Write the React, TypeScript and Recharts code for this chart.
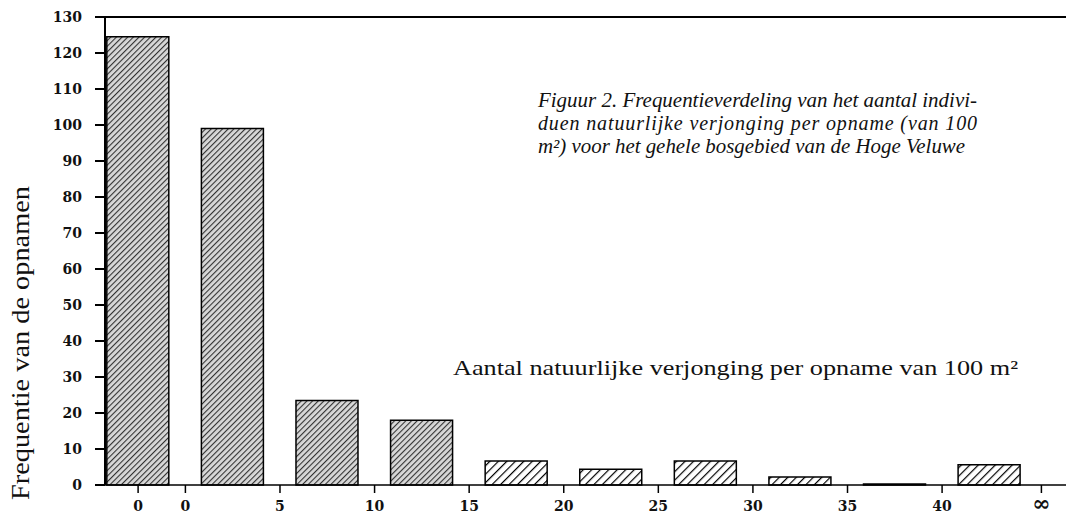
import { BarChart, Bar, XAxis, YAxis, Cell, ReferenceLine } from "recharts"

// classes of natural regeneration per 100 m2 plot
const classes = ["0", "1-4", "5-9", "10-14", "15-19", "20-24", "25-29", "30-34", "35-39", "40+"]
const classIndex = [0.5, 1.5, 2.5, 3.5, 4.5, 5.5, 6.5, 7.5, 8.5, 9.5]
const frequency = [124.5, 99, 23.5, 18, 6.7, 4.4, 6.7, 2.2, 0.3, 5.6]

const xTicks = [0.5, 1, 2, 3, 4, 5, 6, 7, 8, 9, 10.05]
const xTickLabels = ["0", "0", "5", "10", "15", "20", "25", "30", "35", "40", "∞"]
const yTicks = [0, 10, 20, 30, 40, 50, 60, 70, 80, 90, 100, 110, 120, 130]

const data = classes.map((c, i) => ({ name: c, x: classIndex[i], freq: frequency[i] }))

const serif = "'Liberation Serif', 'Times New Roman', Times, serif"
const tickFont = { fontFamily: "'DejaVu Serif'", fontWeight: 700, fontSize: 14, fill: "#111" }

function XTick(props: any) {
  const { x, payload } = props
  const label = xTickLabels[xTicks.indexOf(payload.value)]
  const inf = label === "∞"
  // axis line sits at y=485; baseline near the bottom edge like the scan
  return (
    <text x={x} y={511} textAnchor="middle" style={{ ...tickFont, fontSize: inf ? 22 : 14 }}>
      {label}
    </text>
  )
}

export default function App() {
  return (
    <div style={{ position: "absolute", left: 0, top: 0, width: 1066, height: 516, background: "#fff" }}>
      <BarChart width={1066} height={516} data={data} margin={{ top: 17, right: 0, bottom: 0, left: 0 }}>
        <defs>
          <pattern id="hatchDense" width="4" height="4" patternUnits="userSpaceOnUse" patternTransform="rotate(45)">
            <rect width="4" height="4" fill="#d8d8d8" />
            <line x1="0" y1="0" x2="0" y2="4" stroke="#333" strokeWidth="2.2" />
          </pattern>
          <pattern id="hatchSparse" width="6" height="6" patternUnits="userSpaceOnUse" patternTransform="rotate(45)">
            <rect width="6" height="6" fill="#fff" />
            <line x1="0" y1="0" x2="0" y2="6" stroke="#000" strokeWidth="2.4" />
          </pattern>
        </defs>
        <XAxis
          dataKey="x"
          type="number"
          domain={[0.15, 10.31]}
          allowDataOverflow
          ticks={xTicks}
          interval={0}
          height={31}
          tickSize={8}
          tickMargin={9}
          stroke="#000"
          strokeWidth={1.5}
          tick={<XTick />}
        />
        <YAxis
          domain={[0, 130]}
          ticks={yTicks}
          interval={0}
          width={105}
          tickSize={10}
          tickMargin={13}
          stroke="#000"
          strokeWidth={2}
          tick={tickFont}
        />
        <ReferenceLine y={130} stroke="#000" strokeWidth={2} />
        <Bar dataKey="freq" barSize={62} stroke="#000" strokeWidth={1.5} isAnimationActive={false}>
          {data.map((d, i) => (
            <Cell key={d.name} fill={i < 4 ? "url(#hatchDense)" : "url(#hatchSparse)"} />
          ))}
        </Bar>
      </BarChart>

      {/* texts from the original figure */}
      <svg width={1066} height={516} style={{ position: "absolute", left: 0, top: 0, pointerEvents: "none" }}>
        <text
          x={29}
          y={343}
          transform="rotate(-90 29 343)"
          textAnchor="middle"
          style={{ fontFamily: serif, fontSize: 26 }}
          textLength={314}
          lengthAdjust="spacingAndGlyphs"
          fill="#111"
        >
          Frequentie van de opnamen
        </text>
        <g style={{ fontFamily: serif, fontStyle: "italic", fontSize: 20 }} fill="#111">
          <text x={538} y={107} textLength={439} lengthAdjust="spacingAndGlyphs">
            Figuur 2. Frequentieverdeling van het aantal indivi-
          </text>
          <text x={538} y={130} textLength={439} lengthAdjust="spacing">
            duen natuurlijke verjonging per opname (van 100
          </text>
          <text x={538} y={153} textLength={427} lengthAdjust="spacingAndGlyphs">
            m²) voor het gehele bosgebied van de Hoge Veluwe
          </text>
        </g>
        <text
          x={453}
          y={375}
          style={{ fontFamily: serif, fontSize: 22 }}
          textLength={565}
          lengthAdjust="spacingAndGlyphs"
          fill="#111"
        >
          Aantal natuurlijke verjonging per opname van 100 m²
        </text>
      </svg>
    </div>
  )
}
